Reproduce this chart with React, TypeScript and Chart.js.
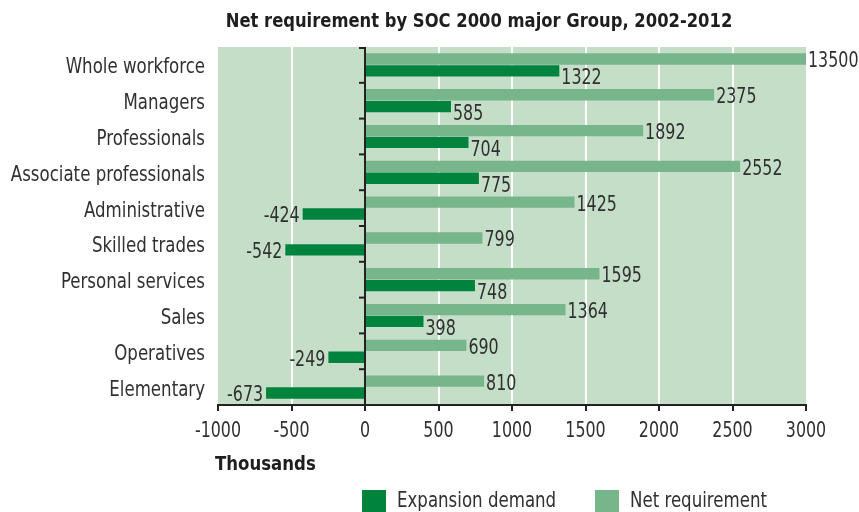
import React, { useEffect, useRef } from "react";
import { Chart, registerables } from "chart.js";

Chart.register(...registerables);

const categories = [
  "Whole workforce",
  "Managers",
  "Professionals",
  "Associate professionals",
  "Administrative",
  "Skilled trades",
  "Personal services",
  "Sales",
  "Operatives",
  "Elementary",
];
const netRequirement = [13500, 2375, 1892, 2552, 1425, 799, 1595, 1364, 690, 810];
const expansionDemand = [1322, 585, 704, 775, -424, -542, 748, 398, -249, -673];
const xTicks = [-1000, -500, 0, 500, 1000, 1500, 2000, 2500, 3000];

const FONT = '"DejaVu Sans Condensed", "DejaVu Sans", sans-serif';
const TEXT = "#303030";
const DARK = "#00843d";
const LIGHT = "#77b68a";
const BG = "#c4dec8";

function drawText(
  ctx: CanvasRenderingContext2D,
  text: string,
  x: number,
  y: number,
  align: CanvasTextAlign,
  font: string,
  sx: number,
  color = TEXT
) {
  ctx.save();
  ctx.font = font;
  ctx.fillStyle = color;
  ctx.textAlign = align;
  ctx.textBaseline = "middle";
  ctx.translate(x, y);
  ctx.scale(sx, 1);
  ctx.fillText(text, 0, 0);
  ctx.restore();
}

export default function App() {
  const ref = useRef<HTMLCanvasElement>(null);
  useEffect(() => {
    document.body.style.margin = "0";
    const canvas = ref.current!;
    const decor = {
      id: "decor",
      beforeDraw(chart: any) {
        const { ctx, chartArea: a } = chart;
        ctx.save();
        ctx.fillStyle = BG;
        ctx.fillRect(a.left, a.top, a.right - a.left, a.bottom - a.top);
        ctx.restore();
      },
      afterDatasetsDraw(chart: any) {
        const { ctx, chartArea: a } = chart;
        const xs = chart.scales.x;
        const x0 = xs.getPixelForValue(0);
        ctx.save();
        ctx.strokeStyle = "#222";
        ctx.lineWidth = 2;
        ctx.beginPath();
        ctx.moveTo(x0, a.top);
        ctx.lineTo(x0, a.bottom);
        ctx.stroke();
        const band = (a.bottom - a.top) / categories.length;
        for (let i = 0; i < categories.length; i++) {
          const y = a.top + i * band + (i === 0 ? 1 : 0);
          ctx.beginPath();
          ctx.moveTo(x0 - 6, y);
          ctx.lineTo(x0, y);
          ctx.stroke();
        }
        ctx.restore();
        const lf = `21px ${FONT}`;
        chart.data.datasets.forEach((ds: any, di: number) => {
          const meta = chart.getDatasetMeta(di);
          meta.data.forEach((el: any, i: number) => {
            const v = ds.data[i];
            if (v >= 0) {
              const x = Math.min(el.x, a.right) + 2;
              const dy = ds.label === "Net requirement" ? 3 : 8;
              drawText(ctx, String(v), x, el.y + dy, "left", lf, 0.84);
            } else {
              drawText(ctx, String(v), el.x - 3, el.y + 3, "right", lf, 0.84);
            }
          });
        });
      },
      afterDraw(chart: any) {
        const { ctx, chartArea: a } = chart;
        const ys = chart.scales.y;
        const xs = chart.scales.x;
        categories.forEach((c, i) => {
          drawText(ctx, c, a.left - 13, ys.getPixelForValue(i) + 3, "right", `21px ${FONT}`, 0.88);
        });
        xTicks.forEach((v) => {
          drawText(ctx, String(v), xs.getPixelForValue(v), 432, "center", `21px ${FONT}`, 0.84);
        });
        drawText(
          ctx,
          "Net requirement by SOC 2000 major Group, 2002-2012",
          479,
          22,
          "center",
          `bold 20px ${FONT}`,
          0.91,
          "#1e1e1e"
        );
        drawText(ctx, "Thousands", a.left - 3, 465, "left", `bold 20px ${FONT}`, 0.92, "#1e1e1e");
        const items = [
          { label: "Expansion demand", color: DARK, x: 362 },
          { label: "Net requirement", color: LIGHT, x: 595 },
        ];
        for (const it of items) {
          ctx.save();
          ctx.fillStyle = it.color;
          ctx.fillRect(it.x, 490, 24, 22);
          ctx.restore();
          drawText(ctx, it.label, it.x + 35, 501, "left", `22px ${FONT}`, 0.84);
        }
      },
    };
    const chart = new Chart(canvas, {
      type: "bar",
      data: {
        labels: categories,
        datasets: [
          {
            label: "Net requirement",
            data: netRequirement,
            backgroundColor: LIGHT,
            categoryPercentage: 0.66,
            barPercentage: 0.96,
          },
          {
            label: "Expansion demand",
            data: expansionDemand,
            backgroundColor: DARK,
            categoryPercentage: 0.66,
            barPercentage: 0.96,
          },
        ],
      },
      options: {
        indexAxis: "y",
        animation: false,
        responsive: false,
        layout: { padding: { top: 47, right: 53, left: 0, bottom: 0 } },
        plugins: { legend: { display: false }, title: { display: false }, tooltip: { enabled: false } },
        scales: {
          x: {
            min: -1000,
            max: 3000,
            afterBuildTicks(scale: any) {
              scale.ticks = xTicks.map((v) => ({ value: v }));
            },
            afterFit(scale: any) {
              scale.height = 107;
            },
            grid: {
              color: (c: any) =>
                c.tick && (c.tick.value === 0 || c.tick.value === -1000 || c.tick.value === 3000)
                  ? "rgba(0,0,0,0)"
                  : "#ffffff",
              lineWidth: 2,
              tickColor: "#222",
              tickLength: 6,
            },
            border: { display: true, color: "#222", width: 2 },
            ticks: { color: "rgba(0,0,0,0)", callback: (v: any) => String(v), maxRotation: 0 },
          },
          y: {
            afterFit(scale: any) {
              scale.width = 218;
            },
            grid: { display: false },
            border: { display: false },
            ticks: { color: "rgba(0,0,0,0)" },
          },
        },
      },
      plugins: [decor],
    });
    return () => chart.destroy();
  }, []);
  return <canvas ref={ref} width={859} height={512} style={{ display: "block" }} />;
}
